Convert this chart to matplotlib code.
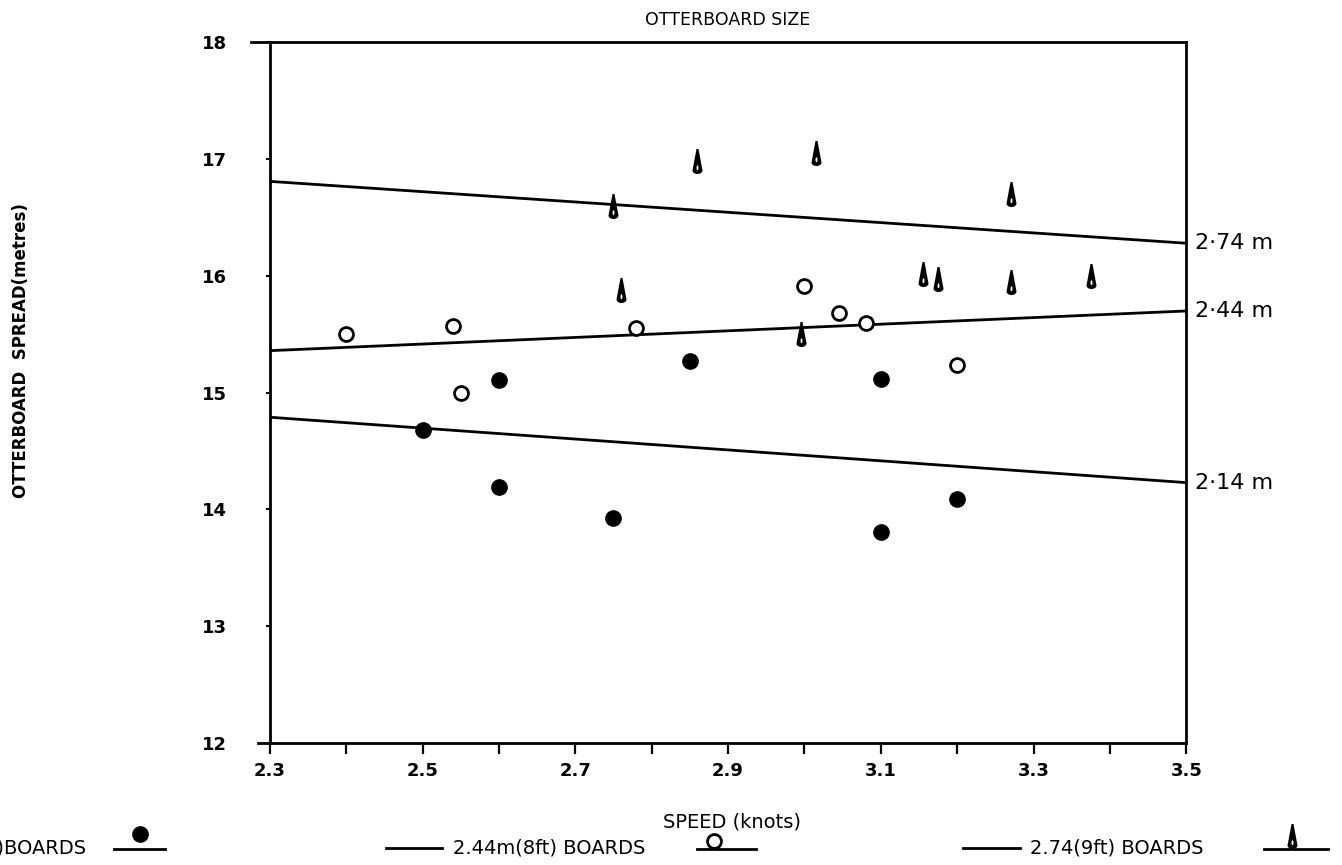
import numpy as np
import matplotlib.pyplot as plt
from matplotlib.path import Path
from matplotlib.lines import Line2D

# 2.14 m (7 ft) boards - filled circles
speed_214 = [2.5, 2.6, 2.6, 2.75, 2.85, 3.1, 3.1, 3.2]
spread_214 = [14.68, 15.11, 14.19, 13.93, 15.27, 15.12, 13.81, 14.09]

# 2.44 m (8 ft) boards - open circles
speed_244 = [2.4, 2.54, 2.55, 2.78, 3.0, 3.045, 3.08, 3.2]
spread_244 = [15.5, 15.57, 15.0, 15.55, 15.91, 15.68, 15.6, 15.24]

# 2.74 m (9 ft) boards - cone markers
speed_274 = [2.75, 2.76, 2.86, 3.015, 2.995, 3.155, 3.175, 3.27, 3.27, 3.375]
spread_274 = [16.6, 15.88, 16.98, 17.05, 15.5, 16.02, 15.97, 16.7, 15.95, 16.0]

# fitted lines, value at each end of the speed axis
fit_speed = [2.3, 3.5]
fit_214 = [14.79, 14.23]
fit_244 = [15.36, 15.70]
fit_274 = [16.81, 16.28]
fit_labels = ["2\u00b714 m", "2\u00b744 m", "2\u00b774 m"]

x_ticks = [2.3, 2.5, 2.7, 2.9, 3.1, 3.3, 3.5]
y_ticks = [12, 13, 14, 15, 16, 17, 18]


def cone_marker():
    # narrow cone with a rounded base and a small hole near the bottom
    t = np.linspace(0, np.pi, 14)
    outer = [(-0.08, 1.0), (0.08, 1.0), (0.4, -0.72)]
    outer += [(0.4 * np.cos(a), -0.72 - 0.28 * np.sin(a)) for a in t]
    outer += [(-0.08, 1.0)]
    s = np.linspace(0, 2 * np.pi, 14)
    hole = [(0.08 * np.cos(a), -0.5 + 0.2 * np.sin(a)) for a in s]
    verts = outer + hole
    codes = ([Path.MOVETO] + [Path.LINETO] * (len(outer) - 2) + [Path.CLOSEPOLY]
             + [Path.MOVETO] + [Path.LINETO] * (len(hole) - 2) + [Path.CLOSEPOLY])
    return Path(verts, codes)


cone = cone_marker()

fig = plt.figure(figsize=(13.42, 8.65), dpi=100)
ax = fig.add_axes([0.201, 0.141, 0.683, 0.810])

ax.plot(fit_speed, fit_214, color="black", lw=2)
ax.plot(fit_speed, fit_244, color="black", lw=2)
ax.plot(fit_speed, fit_274, color="black", lw=2)

ax.plot(speed_214, spread_214, "o", color="black", ms=11, ls="none")
ax.plot(speed_244, spread_244, "o", mfc="white", mec="black", mew=2, ms=10, ls="none")
ax.plot(speed_274, spread_274, marker=cone, color="black", mew=0, ms=18, ls="none")

for ends, lab in zip([fit_214, fit_244, fit_274], fit_labels):
    ax.annotate(lab, xy=(fit_speed[1], ends[1]), xytext=(6, 0), textcoords="offset points",
                va="center", ha="left", fontsize=16, annotation_clip=False)

ax.set_xlim(2.3, 3.5)
ax.set_ylim(12, 18)
ax.set_xticks(x_ticks)
ax.set_xticks(np.arange(2.4, 3.5, 0.2), minor=True)
ax.set_yticks(y_ticks)
ax.tick_params(axis="x", which="both", direction="out", length=8, width=1.6, pad=6)
ax.tick_params(axis="y", direction="out", length=3, width=1.5, pad=28)
for lab in ax.get_xticklabels() + ax.get_yticklabels():
    lab.set_fontsize(13)
    lab.set_fontweight("bold")
for sp in ax.spines.values():
    sp.set_linewidth(2)

# top and bottom frame lines run a little past the left axis
ax.plot([-0.02, 0], [1, 1], transform=ax.transAxes, color="black", lw=2, clip_on=False)
ax.plot([-0.013, 0], [0, 0], transform=ax.transAxes, color="black", lw=2, clip_on=False)

fig.text(0.542, 0.977, "OTTERBOARD SIZE", ha="center", va="center", fontsize=12.5)
fig.text(0.0156, 0.595, "OTTERBOARD  SPREAD(metres)", rotation=90, ha="center",
         va="center", fontsize=12, fontweight="bold")
fig.text(0.5454, 0.050, "SPEED (knots)", ha="center", va="center", fontsize=14)


# legend along the bottom edge
def px(x, y):
    return x / 1342, 1 - y / 865


def sample(x0, x1, xm, ym, **kw):
    fig.add_artist(Line2D([px(x0, 0)[0], px(x1, 0)[0]], [px(0, 849)[1]] * 2,
                          color="black", lw=2))
    fig.add_artist(Line2D([px(xm, 0)[0]], [px(0, ym)[1]], ls="none", **kw))


def dash(x0, x1):
    fig.add_artist(Line2D([px(x0, 0)[0], px(x1, 0)[0]], [px(0, 848)[1]] * 2,
                          color="black", lw=2))


fig.text(*px(87, 848), "2.14m(7ft)BOARDS", ha="right", va="center", fontsize=14)
sample(114, 165, 140, 834, marker="o", color="black", ms=11)

dash(386, 442)
fig.text(*px(453, 848), "2.44m(8ft) BOARDS", ha="left", va="center", fontsize=14)
sample(697, 756, 714, 841, marker="o", mfc="white", mec="black", mew=2, ms=10)

dash(963, 1020)
fig.text(*px(1030, 848), "2.74(9ft) BOARDS", ha="left", va="center", fontsize=14)
sample(1264, 1328, 1292, 836, marker=cone, color="black", mew=0, ms=18)

fig.savefig("out.png", dpi=100)
